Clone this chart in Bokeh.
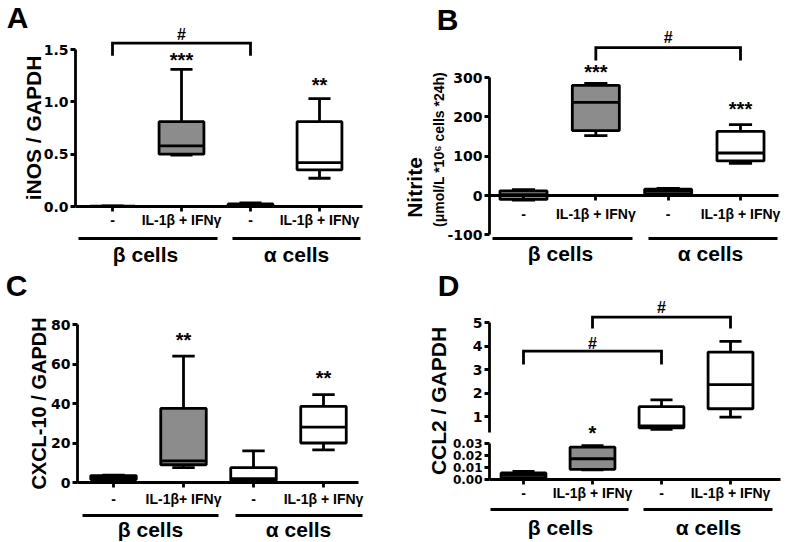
from bokeh.plotting import figure
from bokeh.models import Range1d, LinearAxis, FixedTicker, ColumnDataSource, NumeralTickFormatter
from bokeh.layouts import column, row
from bokeh.embed import file_html
from bokeh.resources import INLINE
from bokeh.core.properties import value

FONT = "Liberation Sans"
TICK_FONT = "DejaVu Sans"

# ---------------- data ----------------
cats = [1, 2, 3, 4]
treatments = ["-", "IL-1β + IFNγ", "-", "IL-1β + IFNγ"]
treatments_C = ["-", "IL-1β+ IFNγ", "-", "IL-1β + IFNγ"]
groups = ["β cells", "α cells"]
box_fill = ["#8c8c8c", "#8c8c8c", "#ffffff", "#ffffff"]

# A: iNOS / GAPDH
A_low = [0.000, 0.49, 0.005, 0.27]
A_q1 = [0.000, 0.50, 0.010, 0.35]
A_med = [0.002, 0.58, 0.020, 0.42]
A_q3 = [0.004, 0.81, 0.025, 0.81]
A_high = [0.005, 1.31, 0.035, 1.03]
A_stars = ["", "***", "", "**"]
A_star_y = [0, 1.40, 0, 1.16]
A_yticks = [0, 0.5, 1.0, 1.5]
A_bracket = dict(x0=1, x1=3, end=1.44, top=1.56, hash_y=1.64)

# B: Nitrite
B_low = [-12, 152, 3, 82]
B_q1 = [-10, 165, 5, 88]
B_med = [2, 237, 12, 108]
B_q3 = [12, 280, 16, 163]
B_high = [15, 285, 18, 180]
B_stars = ["", "***", "", "***"]
B_star_y = [0, 313, 0, 221]
B_yticks = [-100, 0, 100, 200, 300]
B_bracket = dict(x0=2, x1=4, end=343, top=376, hash_y=402)

# C: CXCL-10 / GAPDH
C_low = [1.2, 7.5, 0.0, 16.5]
C_q1 = [1.5, 9.0, 1.0, 20.0]
C_med = [2.5, 11.0, 2.0, 28.0]
C_q3 = [3.5, 37.5, 7.5, 38.5]
C_high = [3.7, 64.0, 16.0, 44.5]
C_stars = ["", "**", "", "**"]
C_star_y = [0, 72, 0, 53]
C_yticks = [0, 20, 40, 60, 80]

# D: CCL2 / GAPDH (broken axis: beta cells on the lower scale, alpha cells on the upper)
D_low = [0.0010, 0.0080, 0.45, 0.97]
D_q1 = [0.0015, 0.0085, 0.52, 1.33]
D_med = [0.0040, 0.0173, 0.60, 2.36]
D_q3 = [0.0055, 0.0269, 1.42, 3.74]
D_high = [0.0068, 0.0283, 1.71, 4.20]
D_stars = ["", "*", "", ""]
D_star_y = [0, 0.039, 0, 0]
D_yticks_upper = [1, 2, 3, 4, 5]
D_yticks_lower = [0.00, 0.01, 0.02, 0.03]
D_bracket1 = dict(x0=1, x1=3, end=3.21, top=3.78, hash_y=4.12)
D_bracket2 = dict(x0=2, x1=4, end=4.74, top=5.23, hash_y=5.63)

LW = 2.8


# ---------------- helpers ----------------
class Map:
    """maps page pixels to data values for one panel"""
    def __init__(self, box, xa, pxa, xb, pxb, ya, pya, yb, pyb):
        self.left, self.top, self.right, self.bottom = box
        self.xa, self.pxa, self.kx = xa, pxa, (xb - xa) / (pxb - pxa)
        self.ya, self.pya, self.ky = ya, pya, (yb - ya) / (pyb - pya)

    def X(self, px):
        return self.xa + (px - self.pxa) * self.kx

    def Y(self, py):
        return self.ya + (py - self.pya) * self.ky

    def yrange(self):
        return Range1d(self.Y(self.bottom), self.Y(self.top))


def style_axis(ax, size="14px"):
    ax.axis_line_width = LW
    ax.axis_line_color = "black"
    ax.major_tick_line_width = LW
    ax.major_tick_line_color = "black"
    ax.major_tick_out = 5
    ax.major_tick_in = 0
    ax.minor_tick_line_color = None
    ax.major_label_text_font = TICK_FONT
    ax.major_label_text_font_style = "bold"
    ax.major_label_text_font_size = size
    ax.major_label_text_color = "black"
    ax.major_label_standoff = 2
    ax.axis_label_text_font = FONT
    ax.axis_label_text_font_style = "bold"
    ax.axis_label_text_color = "black"


def label_axis(p, m, axis_px, text, size, standoff, b0, b1):
    ax = LinearAxis(fixed_location=m.X(axis_px), bounds=(m.Y(b0), m.Y(b1)),
                    ticker=FixedTicker(ticks=[]))
    style_axis(ax)
    ax.axis_line_color = None
    ax.major_tick_out = 0
    ax.axis_label = text
    ax.axis_label_text_font_size = size
    ax.axis_label_standoff = standoff
    p.add_layout(ax, "left")
    return ax


def new_fig(m, extra=None):
    p = figure(width=m.right - m.left, height=m.bottom - m.top, title=None,
               x_range=Range1d(m.X(m.left), m.X(m.right)), y_range=m.yrange(),
               output_backend="svg", toolbar_location=None, min_border=0,
               outline_line_color=None, background_fill_color="white",
               border_fill_color="white", extra_y_ranges=extra or {})
    p.xgrid.visible = False
    p.ygrid.visible = False
    return p


def setup_axes(p, m, yaxis_px, xend_px, yticks, yfmt, ybounds, xlabels, xstandoff,
               x_range_name_y="default"):
    ya = p.yaxis[0]
    style_axis(ya)
    ya.fixed_location = m.X(yaxis_px)
    ya.bounds = ybounds
    ya.ticker = FixedTicker(ticks=yticks)
    ya.formatter = NumeralTickFormatter(format=yfmt)
    xa = p.xaxis[0]
    style_axis(xa)
    xa.y_range_name = x_range_name_y
    xa.fixed_location = 0
    xa.bounds = (m.X(yaxis_px), m.X(xend_px))
    xa.ticker = FixedTicker(ticks=cats)
    xa.major_label_overrides = {c: t for c, t in zip(cats, xlabels)}
    xa.major_label_standoff = xstandoff
    xa.major_label_text_font = FONT
    xa.major_label_text_font_size = "14px"


def boxes(p, idx, lo, q1, med, q3, hi, fills, rng="default", width=0.65, cap=0.32):
    xs = [cats[i] for i in idx]
    src = ColumnDataSource(dict(
        x=xs, lo=[lo[i] for i in idx], q1=[q1[i] for i in idx], med=[med[i] for i in idx],
        q3=[q3[i] for i in idx], hi=[hi[i] for i in idx], fill=[fills[i] for i in idx],
        capl=[x - cap / 2 for x in xs], capr=[x + cap / 2 for x in xs],
        bl=[x - width / 2 for x in xs], br=[x + width / 2 for x in xs]))
    kw = dict(source=src, line_color="black", line_width=LW, y_range_name=rng)
    p.segment(x0="x", y0="q3", x1="x", y1="hi", **kw)
    p.segment(x0="x", y0="lo", x1="x", y1="q1", **kw)
    p.segment(x0="capl", y0="hi", x1="capr", y1="hi", **kw)
    p.segment(x0="capl", y0="lo", x1="capr", y1="lo", **kw)
    p.vbar(x="x", width=width, bottom="q1", top="q3", fill_color="fill", **kw)
    p.segment(x0="bl", y0="med", x1="br", y1="med", **kw)


def txt(p, x, y, t, size, rng="default", align="center"):
    p.text(x=x, y=y, text=t, text_font=value(FONT), text_font_style="bold",
           text_font_size=size, text_align=align, text_baseline="middle",
           text_color="black", y_range_name=rng)


def stars(p, s, sy, rng="default"):
    idx = [i for i, t in enumerate(s) if t]
    txt(p, [cats[i] for i in idx], [sy[i] for i in idx], [s[i] for i in idx], "20px", rng)


def bracket(p, b, rng="default"):
    p.line(x=[b["x0"], b["x0"], b["x1"], b["x1"]], y=[b["end"], b["top"], b["top"], b["end"]],
           line_width=LW, line_color="black", line_join="miter", y_range_name=rng)
    txt(p, [(b["x0"] + b["x1"]) / 2], [b["hash_y"]], ["#"], "16px", rng)


def group_deco(p, m, line_py, spans, label_py, centers):
    p.segment(x0=[m.X(a) for a, b in spans], x1=[m.X(b) for a, b in spans],
              y0=[m.Y(line_py)] * 2, y1=[m.Y(line_py)] * 2, line_width=LW, line_color="black")
    txt(p, [m.X(c) for c in centers], [m.Y(label_py)] * 2, groups, "21px")


def letter(p, m, px, py, t):
    txt(p, [m.X(px)], [m.Y(py)], [t], "30px")


# ---------------- Panel A ----------------
mA = Map((0, 0, 390, 268), 1, 112, 4, 319, 0, 206, 1.5, 49)
pA = new_fig(mA)
setup_axes(pA, mA, 75, 362, A_yticks, "0.0", (0, 1.5), treatments, 0)
label_axis(pA, mA, 75, "iNOS / GAPDH", "21px", 31, 206, 49)
boxes(pA, [0, 1, 2, 3], A_low, A_q1, A_med, A_q3, A_high, box_fill)
stars(pA, A_stars, A_star_y)
bracket(pA, A_bracket)
group_deco(pA, mA, 238, [(78, 217), (232, 360)], 254, [145, 296])
letter(pA, mA, 17, 17, "A")

# ---------------- Panel B ----------------
mB = Map((390, 0, 788, 268), 1, 523, 4, 740, 0, 195, 300, 77)
pB = new_fig(mB)
setup_axes(pB, mB, 489, 778, B_yticks, "0", (-100, 300), treatments, 5)
label_axis(pB, mB, 489, "(μmol/L *10⁶ cells *24h)", "14px", 43, 233, 65)
label_axis(pB, mB, 489, "Nitrite", "21px", 64, 217, 157)
boxes(pB, [0, 1, 2, 3], B_low, B_q1, B_med, B_q3, B_high, box_fill)
stars(pB, B_stars, B_star_y)
bracket(pB, B_bracket)
group_deco(pB, mB, 238, [(492, 632), (648, 777)], 253, [560, 710])
letter(pB, mB, 447, 19, "B")

# ---------------- Panel C ----------------
mC = Map((0, 268, 390, 541), 1, 113, 4, 323, 0, 482, 80, 324)
pC = new_fig(mC)
setup_axes(pC, mC, 77, 358, C_yticks, "0", (0, 80), treatments_C, 3)
label_axis(pC, mC, 77, "CXCL-10 / GAPDH", "20px", 28, 482, 324)
boxes(pC, [0, 1, 2, 3], C_low, C_q1, C_med, C_q3, C_high, box_fill)
stars(pC, C_stars, C_star_y)
group_deco(pC, mC, 515, [(82, 218), (235, 362)], 529, [150, 298])
letter(pC, mC, 16, 285, "C")

# ---------------- Panel D ----------------
mD = Map((390, 268, 788, 541), 1, 523, 4, 730, 1, 416, 5, 322)
mDlow = Map((390, 268, 788, 541), 1, 523, 4, 730, 0.0, 479, 0.03, 443)
pD = new_fig(mD, extra={"low": mDlow.yrange()})
setup_axes(pD, mD, 489, 780, D_yticks_upper, "0", (mD.Y(432), 5), treatments, 0,
           x_range_name_y="low")
lowax = LinearAxis(y_range_name="low", fixed_location=mD.X(489), bounds=(0, 0.03),
                   ticker=FixedTicker(ticks=D_yticks_lower),
                   formatter=NumeralTickFormatter(format="0.00"))
style_axis(lowax, "12px")
pD.add_layout(lowax, "left")
label_axis(pD, mD, 489, "CCL2 / GAPDH", "21px", 40, 479, 322)
boxes(pD, [0, 1], D_low, D_q1, D_med, D_q3, D_high, box_fill, rng="low")
boxes(pD, [2, 3], D_low, D_q1, D_med, D_q3, D_high, box_fill)
stars(pD, D_stars, D_star_y, rng="low")
bracket(pD, D_bracket1)
bracket(pD, D_bracket2)
group_deco(pD, mD, 509, [(490, 628), (643, 772)], 527, [560, 708])
letter(pD, mD, 448, 285, "D")

layout = column(row(pA, pB), row(pC, pD))
open("out.html", "w").write(file_html(layout, INLINE))
